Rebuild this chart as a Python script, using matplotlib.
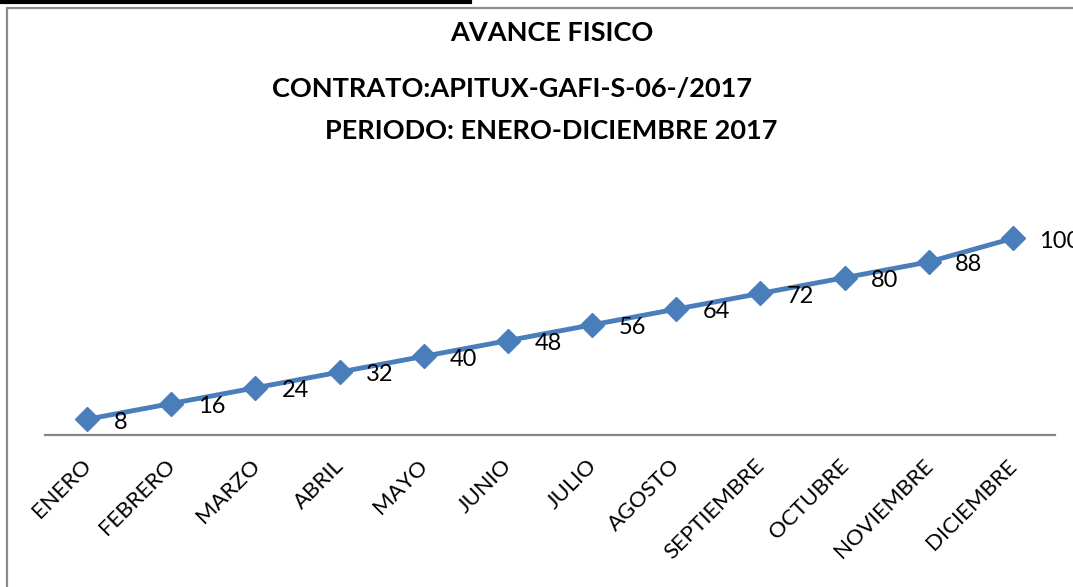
import matplotlib
matplotlib.use("Agg")
import matplotlib.pyplot as plt
import matplotlib.transforms as mtransforms
from matplotlib.lines import Line2D
from matplotlib.patches import Rectangle

plt.rcParams["font.family"] = ["Lato", "DejaVu Sans"]

meses = ["ENERO", "FEBRERO", "MARZO", "ABRIL", "MAYO", "JUNIO", "JULIO",
         "AGOSTO", "SEPTIEMBRE", "OCTUBRE", "NOVIEMBRE", "DICIEMBRE"]
avance = [8, 16, 24, 32, 40, 48, 56, 64, 72, 80, 88, 100]

titulo = "AVANCE FISICO"
contrato = "CONTRATO:APITUX-GAFI-S-06-/2017"
periodo = "PERIODO: ENERO-DICIEMBRE 2017"

W, H = 1073, 587
fig = plt.figure(figsize=(W / 100, H / 100), dpi=100)

# chart frame (gray) and the black strip on top
fig.add_artist(Rectangle((7 / W, -0.05), 1.2, 1 - 8 / H + 0.05, transform=fig.transFigure,
                         fill=False, edgecolor="#8c8c8c", linewidth=1.6))
fig.add_artist(Line2D([0, 470 / W], [1 - 1.5 / H, 1 - 1.5 / H], transform=fig.transFigure,
                      color="black", linewidth=3))

ax = fig.add_axes([45 / W, 1 - 435 / H, (1055 - 45) / W, (435 - 199) / H])
x = range(len(meses))
ax.plot(x, avance, color="#4a7ebb", linewidth=3.5, marker="D", markersize=12,
        markeredgecolor="#4a7ebb", clip_on=False, zorder=3)

for xi, v in zip(x, avance):
    ax.annotate(str(v), (xi, v), xytext=(19, -2), textcoords="offset points",
                ha="left", va="center", fontsize=17, color="black")

ax.set_xlim(-0.5, len(meses) - 0.5)
ax.set_ylim(0, 120)
ax.set_xticks(list(x))
ax.set_xticklabels(meses, rotation=45, ha="right", va="top", rotation_mode="anchor",
                   fontsize=16)
ax.tick_params(axis="x", length=0, pad=15)
shift = mtransforms.ScaledTranslation(-6 / 100, 0, fig.dpi_scale_trans)
for lbl in ax.get_xticklabels():
    lbl.set_transform(lbl.get_transform() + shift)
ax.set_yticks([])
for s in ["top", "right", "left"]:
    ax.spines[s].set_visible(False)
ax.spines["bottom"].set_color("#868686")
ax.spines["bottom"].set_linewidth(1.6)
ax.patch.set_alpha(0)

fig.text(552 / W, 1 - 33 / H, titulo, ha="center", va="center", fontsize=19.5, fontweight="bold")
fig.text(512 / W, 1 - 89 / H, contrato, ha="center", va="center", fontsize=19.5, fontweight="bold")
fig.text(551 / W, 1 - 131 / H, periodo, ha="center", va="center", fontsize=19.5, fontweight="bold")

fig.savefig("out.png", dpi=100)
